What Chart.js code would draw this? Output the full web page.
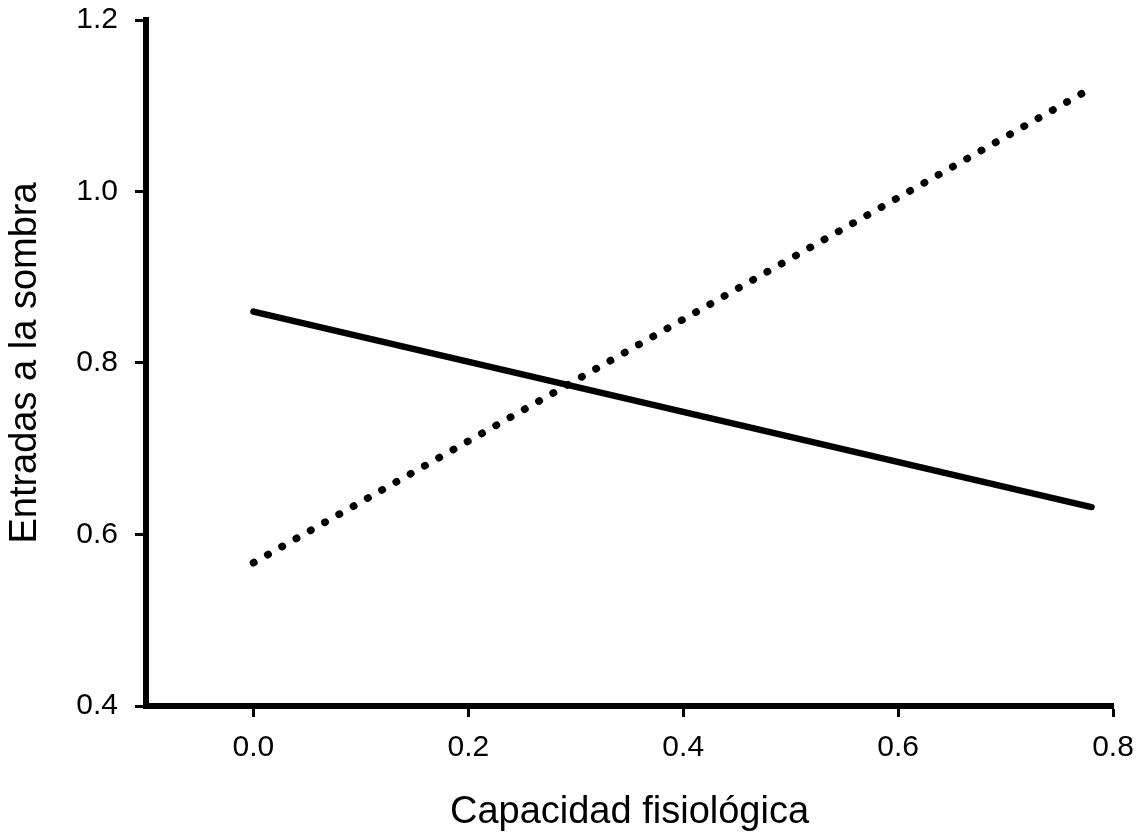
<!DOCTYPE html>
<html>
<head>
<meta charset="utf-8">
<script src="https://cdn.jsdelivr.net/npm/chart.js@4.4.0/dist/chart.umd.min.js"></script>
<style>
  html, body { margin: 0; padding: 0; background: #fff; }
</style>
</head>
<body>
<canvas id="c" width="1136" height="832"></canvas>
<script>
// values
const xTicks = [0, 0.2, 0.4, 0.6, 0.8];
const yTicks = [0.4, 0.6, 0.8, 1.0, 1.2];

const solidX  = [0, 0.78];
const solidY  = [0.860, 0.632];
const dottedX = [0, 0.775];
const dottedY = [0.567, 1.117];

const toPts = (xs, ys) => xs.map((x, i) => ({ x: x, y: ys[i] }));
const FONT = "'Liberation Sans', Arial, sans-serif";

const axisCommon = {
  grid: {
    display: true,
    drawOnChartArea: false,
    drawTicks: true,
    tickLength: 11,
    tickWidth: 3,
    tickColor: '#000'
  },
  border: { display: true, width: 6, color: '#000' }
};

// fill the little gap where the two thick axis lines meet
const cornerFix = {
  id: 'cornerFix',
  afterDraw(chart) {
    const { ctx, chartArea: a } = chart;
    ctx.save();
    ctx.fillStyle = '#000';
    ctx.fillRect(a.left - 3, a.bottom - 3, 6, 6);
    ctx.restore();
  }
};

new Chart(document.getElementById('c'), {
  type: 'scatter',
  data: {
    datasets: [
      {
        label: 'solid',
        data: toPts(solidX, solidY),
        showLine: true,
        borderColor: '#000',
        borderWidth: 6.5,
        borderCapStyle: 'round',
        pointRadius: 0
      },
      {
        label: 'dotted',
        data: toPts(dottedX, dottedY),
        showLine: true,
        borderColor: '#000',
        borderWidth: 7.5,
        borderCapStyle: 'round',
        borderDash: [0.5, 15.9],
        pointRadius: 0
      }
    ]
  },
  plugins: [cornerFix],
  options: {
    responsive: false,
    animation: false,
    devicePixelRatio: 1,
    layout: { padding: { top: 20, right: 23, left: 0, bottom: 0 } },
    plugins: { legend: { display: false }, tooltip: { enabled: false } },
    scales: {
      x: {
        ...axisCommon,
        type: 'linear',
        min: -0.1,
        max: 0.8,
        afterBuildTicks: s => { s.ticks = xTicks.map(v => ({ value: v })); },
        afterFit: s => { s.height = 126; s.paddingLeft = 0; s.paddingRight = 0; },
        ticks: {
          color: '#000',
          padding: 13,
          font: { family: FONT, size: 30 },
          callback: v => Number(v).toFixed(1)
        },
        title: {
          display: true,
          text: 'Capacidad fisiológica',
          color: '#000',
          padding: { top: 0, bottom: 0 },
          font: { family: FONT, size: 38, lineHeight: 1 }
        }
      },
      y: {
        ...axisCommon,
        type: 'linear',
        min: 0.4,
        max: 1.2,
        afterBuildTicks: s => { s.ticks = yTicks.map(v => ({ value: v })); },
        afterFit: s => { s.width = 146; s.paddingTop = 0; s.paddingBottom = 0; },
        ticks: {
          color: '#000',
          padding: 17,
          font: { family: FONT, size: 30 },
          callback: v => Number(v).toFixed(1)
        },
        title: {
          display: true,
          text: 'Entradas a la sombra',
          color: '#000',
          padding: { top: 7, bottom: 0 },
          font: { family: FONT, size: 38, lineHeight: 1 }
        }
      }
    }
  }
});
</script>
</body>
</html>
